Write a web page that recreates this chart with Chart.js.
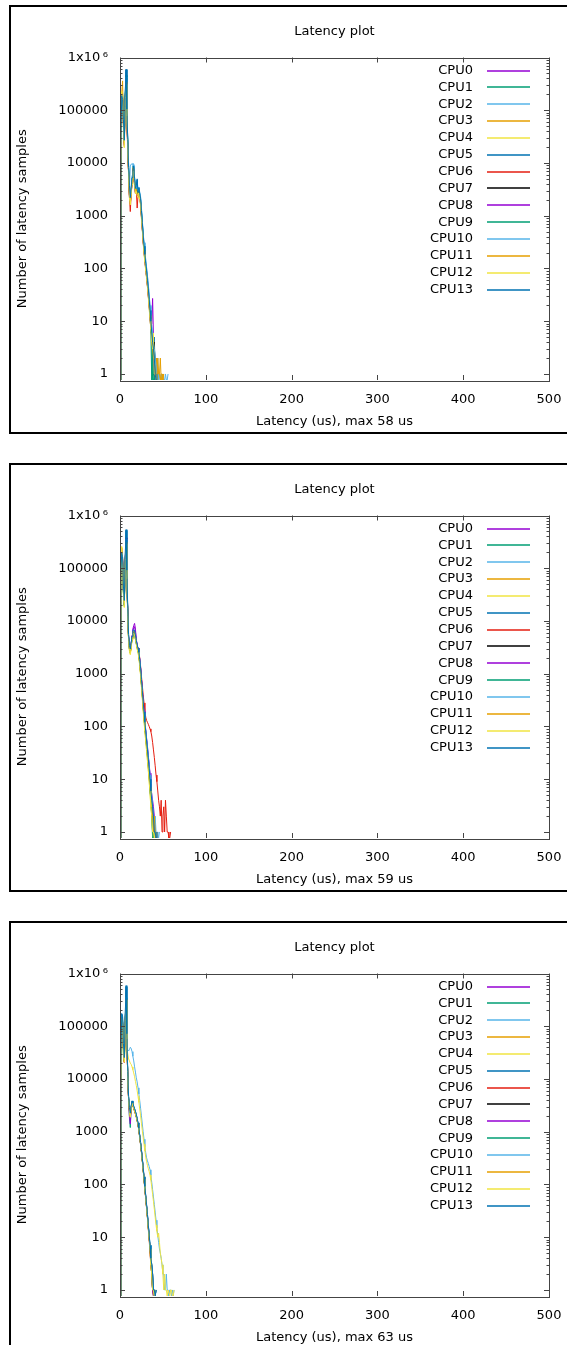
<!DOCTYPE html>
<html>
<head>
<meta charset="utf-8">
<title>Latency plot</title>
<script src="https://cdn.jsdelivr.net/npm/chart.js@4/dist/chart.umd.min.js"></script>
<style>
  html, body { margin: 0; padding: 0; background: #fff; overflow: hidden; }
  .panel { position: absolute; left: 9px; width: 600px; height: 425px; border: 2px solid #000; background: #fff; }
  canvas { display: block; }
</style>
</head>
<body>
<div class="panel" style="top:5px"><canvas id="plot1" width="556" height="425"></canvas></div>
<div class="panel" style="top:463px"><canvas id="plot2" width="556" height="425"></canvas></div>
<div class="panel" style="top:921px"><canvas id="plot3" width="556" height="425"></canvas></div>
<script>
// ---- data: one histogram row per CPU, index = latency bin in us ----
const cpuLabels = ['CPU0','CPU1','CPU2','CPU3','CPU4','CPU5','CPU6','CPU7','CPU8','CPU9','CPU10','CPU11','CPU12','CPU13'];
const cpuColors = ['#9400d3','#009e73','#56b4e9','#e69f00','#f0e442','#0072b2','#e51e10','#000000'];
const maxLatency = [58, 59, 63];
const xTicks = [0, 100, 200, 300, 400, 500];
const yTicks = [1, 10, 100, 1000, 10000, 100000, 1000000];
const yTickLabels = ['1', '10', '100', '1000', '10000', '100000', '1x10\u2009\u2076'];
const Y_MIN = 0.769;   // bottom of the log axis, empty bins sit here

// run 1
const hist1 = [
  [0,14000,95000,160000,52000,21000,130000,380000,85000,20000,6500,2400,1800,2600,4200,7600,7200,4100,2900,3200,2600,2300,2900,2200,1700,950,560,330,200,150,95,70,48,30,20,12,8,9,27,5,3,1,2,0,1],
  [0,18000,140000,210000,70000,27000,170000,460000,95000,24000,7400,2800,2000,3000,5000,8800,8400,4700,3100,3500,2900,2700,3200,2500,2000,1150,700,400,250,175,115,85,52,36,22,14,8,5,0,0,1],
  [0,17000,110000,190000,65000,26000,160000,440000,100000,28000,9500,3200,8800,9500,9600,9600,9400,5200,3400,3800,3100,2900,3400,2700,2200,1350,800,460,300,210,140,100,70,48,30,19,12,8,6,4,3,2,1,2,1,0,1,0,0,1,0,0,0,1,0,0,1,1],
  [0,12000,230000,170000,55000,24000,140000,350000,88000,21000,6800,2500,1700,2700,4600,8200,7800,4300,2800,3300,2700,2500,3000,2300,1800,1000,620,360,220,160,100,75,50,34,21,13,8,6,4,2,3,1,2,1,0,1,1,2,0,1,0,1],
  [0,9000,100000,150000,48000,20000,120000,320000,80000,19000,6000,2300,1600,2500,4000,7000,7000,4000,2700,3000,2500,2200,2800,2100,1600,900,540,320,190,140,90,66,45,29,18,11,7,5,3,2,1,0,1],
  [0,20000,200000,150000,62000,26000,180000,600000,110000,26000,8000,2900,2100,3100,5200,7000,9000,5000,3200,3600,4800,2700,3300,2500,2000,1200,720,420,260,180,120,88,58,40,25,16,10,6,4,3,5,1,0,1],
  [0,15000,105000,165000,58000,23000,140000,400000,50000,20000,6600,2200,1200,2600,4400,7800,7400,4200,2700,3100,1400,2400,2900,2200,1700,980,580,340,210,150,98,70,46,31,20,12,7,5,3,2,1,0,1],
  [0,16000,115000,175000,60000,24000,145000,410000,88000,21000,6900,2500,1800,2700,4500,8000,7700,4300,2800,3300,2700,2400,3000,2300,1800,1050,610,350,220,155,100,72,50,33,21,13,8,5,3,2,4,1,1,0,1],
  [0,13000,98000,155000,54000,22000,135000,370000,82000,19500,6400,2300,1700,2500,4300,7500,7100,4000,2600,3100,2500,2300,2800,2200,1700,960,570,330,200,145,94,68,46,30,19,12,7,5,3,2,1,1,0,1],
  [0,17500,125000,195000,66000,25000,160000,450000,92000,23000,7200,2700,1900,2900,4900,8600,8200,4600,3000,3400,2800,2600,3100,2400,1900,1100,680,390,240,170,112,82,54,36,22,14,6,0,3,1,0,1],
  [0,19000,130000,185000,64000,26000,155000,430000,98000,27000,9800,3300,2400,3400,5800,9800,9600,5300,3500,3900,3200,3000,3500,2800,2300,1400,820,470,310,220,145,104,72,50,31,20,12,8,6,4,3,2,1,1,2,0,1,0,1],
  [0,11000,210000,360000,53000,23000,138000,340000,86000,20500,6700,2400,1700,2600,4500,8100,7700,4200,2800,3200,2600,2400,2900,2300,1800,1020,600,350,215,158,100,74,49,33,21,13,8,5,3,2,2,1,1,0,2,1,1,0,1,1],
  [0,8000,230000,145000,46000,19500,118000,310000,78000,18500,5900,2200,1600,2400,3900,6900,6900,3900,2600,2900,2400,2200,2700,2000,1600,880,530,310,185,135,88,64,44,28,17,11,7,4,3,6,1,1,0,1],
  [0,21000,190000,160000,66000,27000,175000,580000,105000,28000,8200,3800,2200,3200,5300,7200,8800,5000,3300,3700,5000,2800,3400,2600,2100,1250,740,430,265,185,125,90,60,41,26,16,10,6,4,3,2,1,0,1]
];

// run 2
const hist2 = [
  [0,60000,220000,150000,40000,22000,120000,380000,75000,15000,5000,3200,2800,3600,5200,6800,7400,7800,6200,4400,3400,3000,2600,1900,1300,800,480,300,190,120,80,55,38,26,18,12,8,5,4,3,2,1,1,0,1],
  [0,40000,180000,130000,35000,20000,110000,340000,70000,14000,4600,3000,2600,3300,4800,5600,6000,5600,4600,3800,3200,2800,2300,1600,1050,640,400,240,150,96,64,42,28,18,12,7,4,2,0,1],
  [0,45000,200000,140000,38000,21000,118000,360000,72000,14500,4800,3100,2700,3500,5000,6200,6600,6200,5200,4000,3300,2900,2500,1800,1200,740,460,280,180,118,80,56,38,26,17,11,7,4,3,2,1,1,0,1],
  [0,30000,250000,160000,42000,23000,125000,300000,68000,13500,4400,2900,2500,3200,4600,5800,6400,6000,5000,3900,3100,2700,2200,1500,1000,620,380,230,145,92,60,40,26,17,11,7,4,3,2,1,1,0,1],
  [0,5000,230000,120000,32000,18000,100000,280000,62000,12500,4200,2700,2300,3000,4400,5400,5800,5400,4400,3600,2900,2500,2000,1400,920,560,340,200,125,80,52,34,22,14,9,5,3,2,1,0,1],
  [0,70000,190000,160000,45000,24000,140000,520000,90000,17000,5400,3400,2900,3700,5100,6400,6800,6500,5400,4200,3500,3000,2500,1800,1250,760,470,290,185,118,78,52,35,23,15,10,6,4,2,1,2,1,0,1],
  [0,50000,210000,145000,39000,21500,122000,370000,74000,14800,4900,3200,2700,3500,4900,6000,6500,6200,5200,4100,3400,3000,2600,2000,1400,900,600,400,280,200,150,130,120,110,100,90,80,66,50,36,26,18,12,9,6,4,3,2,4,1,2,3,1,4,2,1,1,0,0,1],
  [0,42000,190000,135000,36000,20500,112000,350000,71000,14200,4700,3000,2600,3400,4900,5900,6300,5900,4900,3900,3200,2800,2300,1600,1080,660,410,250,160,100,66,44,29,19,12,7,4,3,2,1,0,1],
  [0,55000,215000,148000,39500,21800,119000,375000,74000,15000,5000,3200,2800,3600,5400,7000,8200,9000,7000,4500,3500,3000,2600,1900,1300,810,500,310,200,130,86,60,42,28,19,13,8,5,3,2,1,1,0,1],
  [0,38000,175000,128000,34000,19500,108000,330000,68000,13800,4500,2900,2500,3200,4700,5500,5900,5500,4500,3700,3100,2700,2200,1550,1020,620,390,235,148,94,62,41,27,17,11,6,4,2,1,0,1],
  [0,48000,205000,142000,38500,21200,117000,358000,72500,14600,4850,3150,2700,3500,5050,6300,6700,6300,5300,4050,3350,2950,2550,1850,1230,760,470,290,185,122,82,58,40,27,18,12,8,5,3,2,1,2,1,0,1,0,1],
  [0,32000,240000,155000,41000,22500,123000,310000,69000,13700,4450,2950,2550,3250,4650,5850,6450,6050,5050,3950,3150,2750,2250,1550,1030,640,390,236,148,94,62,41,27,18,11,7,5,3,2,1,2,1,0,1],
  [0,6000,260000,125000,33000,18500,102000,290000,63000,12700,4250,2750,2350,3050,4450,5450,5850,5450,4450,3650,2950,2550,2050,1420,940,570,345,205,128,82,53,35,23,15,9,6,3,2,1,1,0,1],
  [0,75000,195000,165000,46000,24500,145000,540000,92000,17500,5500,3450,2950,3750,5150,6450,6850,6550,5450,4250,3550,3050,2550,1850,1280,780,480,295,188,120,79,53,36,24,16,10,6,4,3,2,1,1,0,1]
];

// run 3
const hist3 = [
  [0,9000,150000,120000,40000,22000,110000,330000,60000,12000,4200,2600,2000,2800,3600,3300,2900,2600,2300,2000,1700,1400,1100,820,600,430,300,200,130,85,56,38,25,16,10,6,4,2,1,1,0,1],
  [0,12000,160000,130000,42000,23000,115000,350000,62000,12500,4300,1800,1200,2700,3500,3200,2800,2500,2200,1900,1600,1350,1050,780,570,410,285,190,125,82,54,36,24,15,10,6,3,2,1,0,1],
  [0,12000,45000,52000,30000,26000,38000,60000,42000,36000,34000,36000,40000,38000,33000,27000,22000,17000,13500,10500,8800,6800,5200,3900,2800,2000,1400,1000,720,520,400,320,280,250,220,190,150,110,80,58,42,30,21,15,11,8,6,5,4,3,2,2,1,1,2,1,1,0,1,1,0,1,0,1],
  [0,7000,140000,115000,38000,21000,105000,320000,58000,11800,4100,2500,1900,2700,3500,3200,2800,2500,2200,1950,1650,1380,1080,800,590,420,290,195,128,84,55,37,24,15,10,6,3,2,1,1,0,1],
  [0,10000,40000,48000,28000,24000,35000,55000,38000,30000,24000,22000,20000,19000,17000,15000,13000,11000,9000,7500,6000,4700,3600,2700,2000,1450,1050,780,580,430,330,270,230,200,175,150,120,90,65,48,34,24,17,13,10,12,8,5,4,3,2,1,2,1,1,0,1,1,0,1,1,0,0,1],
  [0,18000,170000,150000,46000,25000,125000,560000,70000,13500,4600,2800,2200,3000,3800,3500,3000,2700,2400,2100,1750,1450,1150,850,620,450,310,210,138,90,60,40,27,17,11,7,4,3,2,1,1,0,1],
  [0,4000,130000,110000,37000,20500,100000,300000,56000,11500,4000,2400,1900,2600,3400,3100,2700,2400,2150,1900,1600,1330,1040,770,570,405,280,188,123,80,53,35,23,14,9,5,3,2,1,0,1],
  [0,8500,145000,118000,39000,21500,108000,325000,59000,11900,4150,2550,2000,2750,3550,3250,2850,2550,2250,1980,1680,1400,1090,810,595,425,295,198,130,86,57,38,25,16,10,6,4,3,2,1,1,0,1,1],
  [0,9500,152000,122000,40500,22200,111000,335000,60500,12100,4220,2000,1400,2820,3620,3320,2920,2620,2320,2020,1720,1420,1110,830,605,435,302,202,132,86,57,38,25,16,10,6,4,2,1,0,1],
  [0,11500,158000,128000,41500,22800,114000,345000,61500,12400,4280,2600,2000,2760,3560,3260,2860,2560,2260,1960,1660,1380,1080,800,585,418,290,193,127,83,55,37,24,15,10,6,4,2,1,1,0,1],
  [0,13000,165000,135000,43000,23500,118000,360000,64000,12800,4400,2700,2100,2900,3700,3400,3000,2700,2400,2100,1780,1480,1160,860,630,455,316,212,140,92,61,41,27,17,11,7,4,3,2,1,1,0,1],
  [0,7500,142000,116000,38500,21200,106000,322000,58500,11850,4120,2520,1920,2720,3520,3220,2820,2520,2220,1960,1660,1390,1085,805,592,422,292,196,129,85,56,37,24,15,10,6,3,2,1,1,0,1],
  [0,6500,138000,113000,37500,20800,104000,315000,57500,11700,4080,2480,1880,2680,3480,3180,2780,2480,2180,1930,1630,1370,1070,795,585,415,288,193,126,83,54,36,23,15,9,6,3,2,1,1,0,1],
  [0,19000,175000,155000,47000,25500,130000,590000,72000,13800,4700,2850,2250,3050,3850,3550,3050,2750,2450,2150,1780,1470,1170,860,630,458,315,213,140,92,61,41,27,17,11,7,4,3,2,1,1,0,1]
];

// ---- look ----
const FONT = { family: '"DejaVu Sans", sans-serif', size: 13, weight: 'normal' };

// plot border plus inward ticks on all four sides (log minors on y)
const framePlugin = {
  id: 'frame',
  afterDatasetsDraw(chart) {
    const { ctx, chartArea: a, scales: { x, y } } = chart;
    ctx.save();
    ctx.strokeStyle = '#444';
    ctx.lineWidth = 1;
    ctx.beginPath();
    xTicks.forEach(v => {
      const px = Math.round(x.getPixelForValue(v)) + 0.5;
      ctx.moveTo(px, a.bottom); ctx.lineTo(px, a.bottom - 5);
      ctx.moveTo(px, a.top); ctx.lineTo(px, a.top + 5);
    });
    yTicks.forEach(dec => {
      for (let m = 1; m < 10; m++) {
        const v = dec * m;
        if (v > y.max) break;
        const len = m === 1 ? 5 : 2.5;
        const py = Math.round(y.getPixelForValue(v)) + 0.5;
        ctx.moveTo(a.left, py); ctx.lineTo(a.left + len, py);
        ctx.moveTo(a.right, py); ctx.lineTo(a.right - len, py);
      }
    });
    ctx.stroke();
    ctx.strokeRect(Math.round(a.left) + 0.5, Math.round(a.top) + 0.5, Math.round(a.width), Math.round(a.height));
    ctx.restore();
  }
};

// gnuplot-style key: label right-aligned, line sample to the right
const keyPlugin = {
  id: 'key',
  afterDraw(chart) {
    const { ctx, chartArea: a } = chart;
    ctx.save();
    ctx.font = `${FONT.size}px ${FONT.family}`;
    ctx.textAlign = 'right';
    ctx.textBaseline = 'middle';
    chart.data.datasets.forEach((ds, i) => {
      const yy = a.top + 13 + i * 16.85;
      ctx.fillStyle = '#000';
      ctx.fillText(ds.label, 462, yy);
      ctx.strokeStyle = ds.borderColor;
      ctx.lineWidth = 1.3;
      ctx.beginPath();
      ctx.moveTo(476, Math.round(yy));
      ctx.lineTo(519, Math.round(yy));
      ctx.stroke();
    });
    ctx.restore();
  }
};

function makePlot(id, hist, maxUs) {
  const datasets = hist.map((counts, i) => ({
    label: cpuLabels[i],
    // empty bins drop to the floor of the log axis
    data: counts.map((c, us) => ({ x: us, y: c > 0 ? c : Y_MIN })),
    borderColor: cpuColors[i % cpuColors.length],
    borderWidth: 1,
    pointRadius: 0,
    tension: 0,
    fill: false,
    order: hist.length - i   // later CPUs on top
  }));

  return new Chart(document.getElementById(id), {
    type: 'line',
    data: { datasets },
    options: {
      responsive: false,
      animation: false,
      devicePixelRatio: 1,
      layout: { padding: { left: 0, right: 18, top: 0, bottom: 0 } },
      plugins: {
        legend: { display: false },
        tooltip: { enabled: false },
        title: {
          display: true, text: 'Latency plot', fullSize: false,
          color: '#000', font: FONT, padding: { top: 17.2, bottom: 17.7 }
        }
      },
      scales: {
        x: {
          type: 'linear', min: 0, max: 500,
          afterBuildTicks: s => { s.ticks = xTicks.map(v => ({ value: v })); },
          afterFit: s => { s.height = 52; s.paddingLeft = 0; s.paddingRight = 0; },
          grid: { display: false, drawTicks: false },
          border: { display: false },
          ticks: { color: '#000', font: FONT, padding: 11.5, maxRotation: 0, autoSkip: false },
          title: { display: true, text: `Latency (us), max ${maxUs} us`, color: '#000', font: FONT, padding: { top: 0, bottom: 2.5 } }
        },
        y: {
          type: 'logarithmic', min: Y_MIN, max: 1000000,
          afterBuildTicks: s => { s.ticks = yTicks.map(v => ({ value: v })); },
          afterFit: s => { s.width = 109; },
          grid: { display: false, drawTicks: false },
          border: { display: false },
          ticks: {
            color: '#000', font: FONT, padding: 12, autoSkip: false,
            callback: v => yTickLabels[yTicks.indexOf(v)]
          },
          title: { display: true, text: 'Number of latency samples', color: '#000', font: FONT, padding: { top: 4.2, bottom: 0 } }
        }
      }
    },
    plugins: [framePlugin, keyPlugin]
  });
}

makePlot('plot1', hist1, maxLatency[0]);
makePlot('plot2', hist2, maxLatency[1]);
makePlot('plot3', hist3, maxLatency[2]);
</script>
</body>
</html>
